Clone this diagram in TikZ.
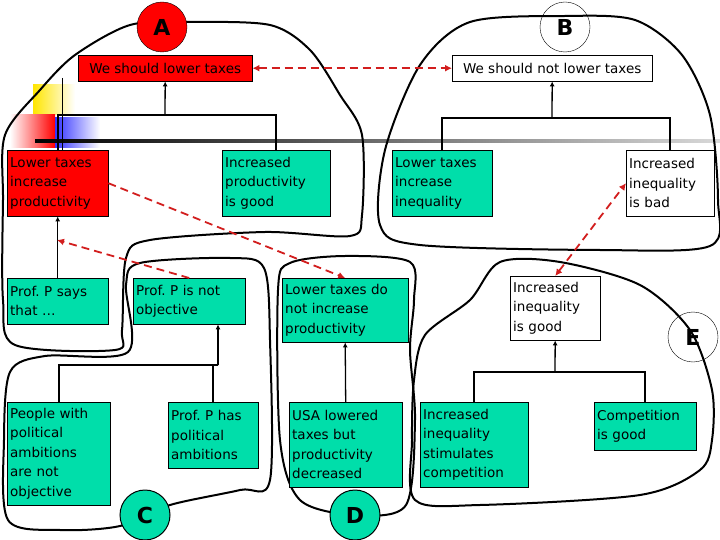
\documentclass[tikz,border=0pt]{standalone}
\usepackage{fontspec}
\setmainfont{DejaVu Sans}
\usetikzlibrary{arrows.meta,positioning}
\definecolor{teal}{RGB}{0,222,170}
\definecolor{dred}{RGB}{210,30,30}

\begin{document}
\begin{tikzpicture}[x=1pt,y=-1pt,
			every node/.style={font=\fontsize{13.5}{19.5}\selectfont},
			box/.style={draw, anchor=north west, inner sep=3pt, align=left},
			lab/.style={circle, draw, minimum size=50pt, inner sep=0pt, font=\fontsize{22}{22}\selectfont\bfseries},
			blob/.style={line width=2pt, line join=round},
			tree/.style={line width=1.6pt},
			up/.style={-{Latex[length=5pt,width=5pt]}, line width=1.3pt},
			argue/.style={dashed, dash pattern=on 8pt off 5pt, line width=1.8pt, draw=dred, -{Latex[length=7pt,width=7pt]}}
		]
		\useasboundingbox (0,0) rectangle (720,540);
		% decoration top left
		\shade[left color=yellow!80!orange, right color=white] (33,85) rectangle (75,115);
		\shade[left color=white, right color=red] (10,115) rectangle (55,148);
		\shade[left color=blue!80, right color=white] (55,118) rectangle (100,148);
		\shade[left color=black, right color=gray!30] (35,140) rectangle (720,143);
		\draw[line width=1pt] (62,78) -- (62,150);
		% outlines
		\draw[blob] plot[smooth cycle, tension=0.5] coordinates {(5,135) (40,90) (75,55) (130,25) (190,22) (270,25) (310,50) (340,95) (362,135) (362,215) (350,236) (265,232) (150,240) (126,258) (122,330) (115,350) (15,345) (3,300) (3,200)};
		\draw[blob] plot[smooth cycle, tension=0.5] coordinates {(420,65) (470,22) (565,16) (635,20) (682,55) (710,115) (718,200) (710,246) (600,250) (420,245) (380,225) (385,150)};
		\draw[blob] plot[smooth cycle, tension=0.5] coordinates {(10,372) (45,356) (128,352) (126,285) (140,263) (230,258) (264,268) (270,340) (270,480) (240,490) (170,505) (120,526) (60,530) (8,520) (4,440)};
		\draw[blob] plot[smooth cycle, tension=0.5] coordinates {(278,290) (290,263) (345,256) (410,262) (414,300) (410,350) (415,420) (406,505) (355,515) (300,500) (280,440)};
		\draw[blob] plot[smooth cycle, tension=0.5] coordinates {(414,380) (425,335) (470,300) (500,262) (560,262) (640,285) (690,330) (712,390) (712,440) (700,470) (640,495) (480,505) (415,500) (412,440)};
		% labels of the zones
		\node[lab, fill=red] (labA) at (162,27) {A};
		\node[lab, draw=black, thin, fill=none] (labB) at (565,27) {B};
		\node[lab, fill=teal, line width=1pt] (labC) at (145,515) {C};
		\node[lab, fill=teal, line width=1pt] (labD) at (355,515) {D};
		\node[lab, draw=black, thin, fill=none] (labE) at (693,337) {E};
		% claims
		\node[box, fill=red, minimum width=174pt, minimum height=26pt, align=center] (top1) at (78,55) {We should lower taxes};
		\node[box, fill=white, minimum width=200pt, minimum height=26pt, align=center] (top2) at (452,55) {We should not lower taxes};
		\node[box, fill=red, text width=95pt, minimum height=66pt] (LTIP) at (7,150) {Lower taxes\\increase\\productivity};
		\node[box, fill=teal, text width=102pt, minimum height=66pt] (IPG) at (222,150) {Increased\\productivity\\is good};
		\node[box, fill=teal, text width=94pt, minimum height=66pt] (LTII) at (392,150) {Lower taxes\\increase\\inequality};
		\node[box, fill=white, text width=82pt, minimum height=66pt] (IIB) at (626,150) {Increased\\inequality\\is bad};
		\node[box, fill=teal, text width=95pt, minimum height=46pt] (ProfP) at (7,278) {Prof.\ P says\\that \dots};
		\node[box, fill=teal, text width=106pt, minimum height=46pt] (NotObj) at (133,278) {Prof.\ P is not\\objective};
		\node[box, fill=teal, text width=120pt, minimum height=64pt] (LTDN) at (282,278) {Lower taxes do\\not increase\\productivity};
		\node[box, fill=white, text width=84pt, minimum height=64pt] (IIG) at (510,276) {Increased\\inequality\\is good};
		\node[box, fill=teal, text width=97pt, minimum height=103pt] (People) at (7,402) {People with\\political\\ambitions\\are not\\objective};
		\node[box, fill=teal, text width=84pt, minimum height=66pt] (HasAmb) at (168,402) {Prof.\ P has\\political\\ambitions};
		\node[box, fill=teal, text width=107pt, minimum height=85pt] (USA) at (289,402) {USA lowered\\taxes but\\productivity\\decreased};
		\node[box, fill=teal, text width=102pt, minimum height=85pt] (IISC) at (420,402) {Increased\\inequality\\stimulates\\competition};
		\node[box, fill=teal, text width=96pt, minimum height=48pt] (CompG) at (594,402) {Competition\\is good};
		% support trees
		\coordinate (jA) at (165,115);
		\coordinate (jB) at (552,118);
		\coordinate (jC) at (218,365);
		\coordinate (jE) at (555,372);
		\coordinate (hit) at (57,240);
		\draw[tree] (LTIP.north) |- (jA) -| (IPG.north);
		\draw[up] (jA) -- (top1.south);
		\draw[tree] (LTII.north) |- (jB) -| (IIB.north);
		\draw[up] (jB) -- (top2.south);
		\draw[tree] (People.north) |- (jC) -| (HasAmb.north);
		\draw[up] (jC) -- (jC |- NotObj.south);
		\draw[tree] (IISC.north) |- (jE) -| (CompG.north);
		\draw[up] (jE) -- (IIG.south);
		\draw[up] (ProfP.north) -- (LTIP.south);
		\draw[up] (USA.north) -- (LTDN.south);
		% attacks
		\draw[argue, {Latex[length=7pt,width=7pt]}-{Latex[length=7pt,width=7pt]}] (top1.east) -- (top2.west);
		\draw[argue] (LTIP.east) -- (LTDN.north);
		\draw[argue] (NotObj.north) -- (hit);
		\draw[argue, {Latex[length=7pt,width=7pt]}-{Latex[length=7pt,width=7pt]}] (IIG.north) -- (IIB.west);
	\end{tikzpicture}
\end{document}
